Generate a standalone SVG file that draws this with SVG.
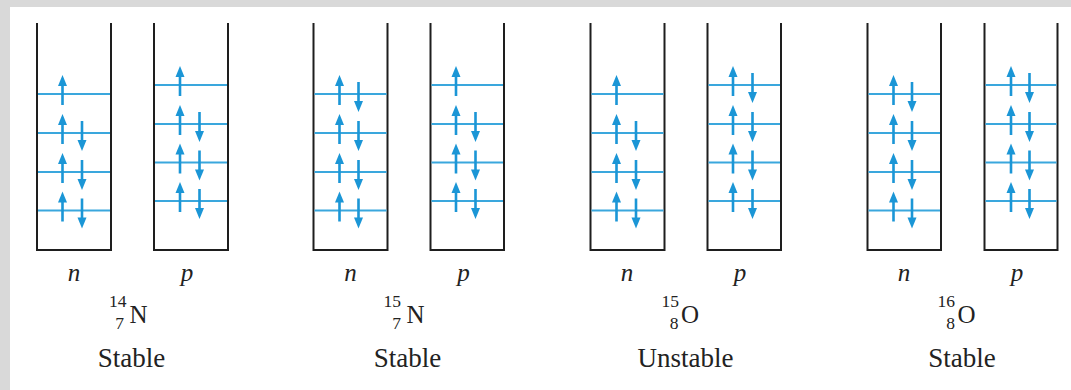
<svg xmlns="http://www.w3.org/2000/svg" xmlns:xlink="http://www.w3.org/1999/xlink" width="1071" height="390" viewBox="0 0 1071 390">
<style>
.box{fill:none;stroke:#1e1e1e;stroke-width:2}
.lvl{stroke:#3aa7dd;stroke-width:2}
.arr{fill:#1b96d6}
.lab{font-family:"Liberation Serif",serif;font-style:italic;font-size:25px;fill:#222;text-anchor:middle}
.sym{font-family:"Liberation Serif",serif;font-size:25px;fill:#222}
.num{font-family:"Liberation Serif",serif;font-size:17.5px;fill:#222;text-anchor:end}
.st{font-family:"Liberation Serif",serif;font-size:27px;fill:#222;text-anchor:middle}
</style>
<defs>
<g id="up" class="arr"><path d="M0,-19 L4.5,-8 L-4.5,-8 Z"/><rect x="-1.3" y="-10" width="2.6" height="21"/></g>
<g id="dn" class="arr"><path d="M0,18 L4.5,7 L-4.5,7 Z"/><rect x="-1.3" y="-12" width="2.6" height="21"/></g>
</defs>
<rect width="1071" height="390" fill="#d9d9d9"/>
<rect x="10" y="7" width="1061" height="383" fill="#fff"/>

<!-- 14N -->
<g id="n14-n">
<path class="box" d="M37,23 V250 H111 V23"/>
<line class="lvl" x1="38" y1="94" x2="110" y2="94"/><line class="lvl" x1="38" y1="133" x2="110" y2="133"/><line class="lvl" x1="38" y1="172" x2="110" y2="172"/><line class="lvl" x1="38" y1="210.5" x2="110" y2="210.5"/>
<use xlink:href="#up" x="62.5" y="94"/>
<use xlink:href="#up" x="62.5" y="133"/><use xlink:href="#dn" x="82" y="133"/>
<use xlink:href="#up" x="62.5" y="172"/><use xlink:href="#dn" x="82" y="172"/>
<use xlink:href="#up" x="62.5" y="210.5"/><use xlink:href="#dn" x="82" y="210.5"/>
<text class="lab" x="74" y="281">n</text>
</g>
<g id="n14-p">
<path class="box" d="M154,23 V250 H228 V23"/>
<line class="lvl" x1="155" y1="85" x2="227" y2="85"/><line class="lvl" x1="155" y1="124" x2="227" y2="124"/><line class="lvl" x1="155" y1="162.5" x2="227" y2="162.5"/><line class="lvl" x1="155" y1="201" x2="227" y2="201"/>
<use xlink:href="#up" x="180" y="85"/>
<use xlink:href="#up" x="180" y="124"/><use xlink:href="#dn" x="199.5" y="124"/>
<use xlink:href="#up" x="180" y="162.5"/><use xlink:href="#dn" x="199.5" y="162.5"/>
<use xlink:href="#up" x="180" y="201"/><use xlink:href="#dn" x="199.5" y="201"/>
<text class="lab" x="187" y="281">p</text>
</g>
<g id="n14-label">
<text class="num" x="126.5" y="307">14</text>
<text class="num" x="124" y="329">7</text>
<text class="sym" x="129.5" y="322.5">N</text>
<text class="st" x="131.5" y="367">Stable</text>
</g>

<!-- 15N -->
<g id="n15-n">
<path class="box" d="M313.5,23 V250 H387.5 V23"/>
<line class="lvl" x1="314.5" y1="94" x2="386.5" y2="94"/><line class="lvl" x1="314.5" y1="133" x2="386.5" y2="133"/><line class="lvl" x1="314.5" y1="172" x2="386.5" y2="172"/><line class="lvl" x1="314.5" y1="210.5" x2="386.5" y2="210.5"/>
<use xlink:href="#up" x="339.5" y="94"/><use xlink:href="#dn" x="358.5" y="94"/>
<use xlink:href="#up" x="339.5" y="133"/><use xlink:href="#dn" x="358.5" y="133"/>
<use xlink:href="#up" x="339.5" y="172"/><use xlink:href="#dn" x="358.5" y="172"/>
<use xlink:href="#up" x="339.5" y="210.5"/><use xlink:href="#dn" x="358.5" y="210.5"/>
<text class="lab" x="350.5" y="281">n</text>
</g>
<g id="n15-p">
<path class="box" d="M430.5,23 V250 H504 V23"/>
<line class="lvl" x1="431.5" y1="85" x2="503" y2="85"/><line class="lvl" x1="431.5" y1="124" x2="503" y2="124"/><line class="lvl" x1="431.5" y1="162.5" x2="503" y2="162.5"/><line class="lvl" x1="431.5" y1="201" x2="503" y2="201"/>
<use xlink:href="#up" x="456" y="85"/>
<use xlink:href="#up" x="456" y="124"/><use xlink:href="#dn" x="475.5" y="124"/>
<use xlink:href="#up" x="456" y="162.5"/><use xlink:href="#dn" x="475.5" y="162.5"/>
<use xlink:href="#up" x="456" y="201"/><use xlink:href="#dn" x="475.5" y="201"/>
<text class="lab" x="463.5" y="281">p</text>
</g>
<g id="n15-label">
<text class="num" x="401" y="307">15</text>
<text class="num" x="401" y="329">7</text>
<text class="sym" x="406.5" y="322.5">N</text>
<text class="st" x="407.5" y="367">Stable</text>
</g>

<!-- 15O -->
<g id="o15-n">
<path class="box" d="M590.5,23 V250 H664.5 V23"/>
<line class="lvl" x1="591.5" y1="94" x2="663.5" y2="94"/><line class="lvl" x1="591.5" y1="133" x2="663.5" y2="133"/><line class="lvl" x1="591.5" y1="172" x2="663.5" y2="172"/><line class="lvl" x1="591.5" y1="210.5" x2="663.5" y2="210.5"/>
<use xlink:href="#up" x="616.5" y="94"/>
<use xlink:href="#up" x="616.5" y="133"/><use xlink:href="#dn" x="636" y="133"/>
<use xlink:href="#up" x="616.5" y="172"/><use xlink:href="#dn" x="636" y="172"/>
<use xlink:href="#up" x="616.5" y="210.5"/><use xlink:href="#dn" x="636" y="210.5"/>
<text class="lab" x="627" y="281">n</text>
</g>
<g id="o15-p">
<path class="box" d="M707.5,23 V250 H781 V23"/>
<line class="lvl" x1="708.5" y1="85" x2="780" y2="85"/><line class="lvl" x1="708.5" y1="124" x2="780" y2="124"/><line class="lvl" x1="708.5" y1="162.5" x2="780" y2="162.5"/><line class="lvl" x1="708.5" y1="201" x2="780" y2="201"/>
<use xlink:href="#up" x="733" y="85"/><use xlink:href="#dn" x="752.5" y="85"/>
<use xlink:href="#up" x="733" y="124"/><use xlink:href="#dn" x="752.5" y="124"/>
<use xlink:href="#up" x="733" y="162.5"/><use xlink:href="#dn" x="752.5" y="162.5"/>
<use xlink:href="#up" x="733" y="201"/><use xlink:href="#dn" x="752.5" y="201"/>
<text class="lab" x="740" y="281">p</text>
</g>
<g id="o15-label">
<text class="num" x="679" y="307">15</text>
<text class="num" x="678.5" y="329">8</text>
<text class="sym" x="681" y="322.5">O</text>
<text class="st" x="685.5" y="367">Unstable</text>
</g>

<!-- 16O -->
<g id="o16-n">
<path class="box" d="M867.5,23 V250 H941 V23"/>
<line class="lvl" x1="868.5" y1="94" x2="940" y2="94"/><line class="lvl" x1="868.5" y1="133" x2="940" y2="133"/><line class="lvl" x1="868.5" y1="172" x2="940" y2="172"/><line class="lvl" x1="868.5" y1="210.5" x2="940" y2="210.5"/>
<use xlink:href="#up" x="893.5" y="94"/><use xlink:href="#dn" x="912" y="94"/>
<use xlink:href="#up" x="893.5" y="133"/><use xlink:href="#dn" x="912" y="133"/>
<use xlink:href="#up" x="893.5" y="172"/><use xlink:href="#dn" x="912" y="172"/>
<use xlink:href="#up" x="893.5" y="210.5"/><use xlink:href="#dn" x="912" y="210.5"/>
<text class="lab" x="904" y="281">n</text>
</g>
<g id="o16-p">
<path class="box" d="M984.5,23 V250 H1057.5 V23"/>
<line class="lvl" x1="985.5" y1="85" x2="1056.5" y2="85"/><line class="lvl" x1="985.5" y1="124" x2="1056.5" y2="124"/><line class="lvl" x1="985.5" y1="162.5" x2="1056.5" y2="162.5"/><line class="lvl" x1="985.5" y1="201" x2="1056.5" y2="201"/>
<use xlink:href="#up" x="1011" y="85"/><use xlink:href="#dn" x="1029.5" y="85"/>
<use xlink:href="#up" x="1011" y="124"/><use xlink:href="#dn" x="1029.5" y="124"/>
<use xlink:href="#up" x="1011" y="162.5"/><use xlink:href="#dn" x="1029.5" y="162.5"/>
<use xlink:href="#up" x="1011" y="201"/><use xlink:href="#dn" x="1029.5" y="201"/>
<text class="lab" x="1017" y="281">p</text>
</g>
<g id="o16-label">
<text class="num" x="955" y="307">16</text>
<text class="num" x="955" y="329">8</text>
<text class="sym" x="957.5" y="322.5">O</text>
<text class="st" x="962" y="367">Stable</text>
</g>
<g id="connectors"/>
</svg>
